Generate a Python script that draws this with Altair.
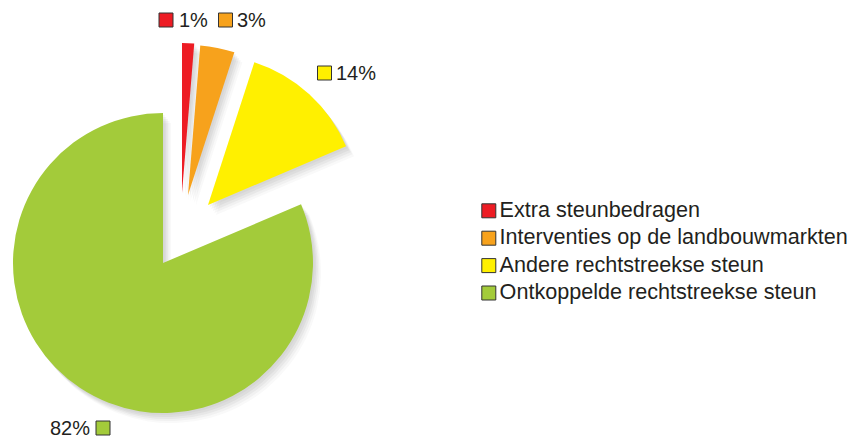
import math
import altair as alt
import pandas as pd

# ---- data ----
categories = [
    "Extra steunbedragen",
    "Interventies op de landbouwmarkten",
    "Andere rechtstreekse steun",
    "Ontkoppelde rechtstreekse steun",
]
values = [1.3, 3.7, 13.6, 81.4]
pct_labels = ["1%", "3%", "14%", "82%"]
colors = ["#ED1C24", "#F7A21C", "#FFF000", "#A3CB3A"]

df = pd.DataFrame({"cat": categories, "value": values, "label": pct_labels})
df["end"] = df["value"].cumsum()
df["start"] = df["end"] - df["value"]

# ---- layout / style ----
FONT = "Liberation Sans"
TXT = "#231F20"
CX, CY, R = 155, 255, 150
explode = [(19, -70), (25, -68), (45, -58), (0, 0)]
# (square x, y, text x, text align)
label_pos = [
    (158, 12, 171, "left"),
    (217.5, 12, 229, "left"),
    (316.5, 65, 328, "left"),
    (95, 420, 82, "right"),
]

color_scale = alt.Scale(domain=categories, range=colors)
theta_scale = alt.Scale(domain=[0, 100], range=[0, 2 * math.pi])
legend = alt.Legend(
    title=None, orient="none", legendX=470, legendY=192,
    symbolType="square", symbolSize=196, symbolStrokeColor="#333333",
    symbolStrokeWidth=1, symbolOpacity=1, labelFontSize=21.6, labelFont=FONT,
    labelColor=TXT, rowPadding=4.4, labelOffset=0, labelLimit=500,
)

base = alt.Chart(df)
layers = []

# soft drop shadows
for cat, (dx, dy) in zip(categories, explode):
    for s, op in [(2, 0.05), (4, 0.05), (6, 0.05), (8, 0.04), (10, 0.03)]:
        layers.append(
            base.transform_filter(alt.datum.cat == cat)
            .mark_arc(radius=R, color="#333333", opacity=op)
            .encode(
                theta=alt.Theta("start:Q", scale=theta_scale),
                theta2=alt.Theta2("end:Q"),
                x=alt.value(CX + dx + s * 0.8),
                y=alt.value(CY + dy + s),
            )
        )

# slices
for cat, (dx, dy) in zip(categories, explode):
    layers.append(
        base.transform_filter(alt.datum.cat == cat)
        .mark_arc(radius=R)
        .encode(
            theta=alt.Theta("start:Q", scale=theta_scale),
            theta2=alt.Theta2("end:Q"),
            color=alt.Color("cat:N", scale=color_scale, legend=legend),
            x=alt.value(CX + dx),
            y=alt.value(CY + dy),
        )
    )

# percentage labels with swatches
for cat, (sx, sy, tx, al) in zip(categories, label_pos):
    sub = base.transform_filter(alt.datum.cat == cat)
    layers.append(
        sub.mark_square(size=196, stroke="#333333", strokeWidth=1, opacity=1)
        .encode(
            color=alt.Color("cat:N", scale=color_scale, legend=legend),
            x=alt.value(sx), y=alt.value(sy),
        )
    )
    layers.append(
        sub.mark_text(align=al, baseline="middle", fontSize=20, font=FONT, color=TXT)
        .encode(text="label:N", x=alt.value(tx), y=alt.value(sy + 1))
    )

chart = (
    alt.layer(*layers)
    .properties(width=844, height=433, autosize="none", padding=0)
    .configure_view(stroke=None)
)

chart.save("out.html", embed_options={"renderer": "svg", "actions": False})
